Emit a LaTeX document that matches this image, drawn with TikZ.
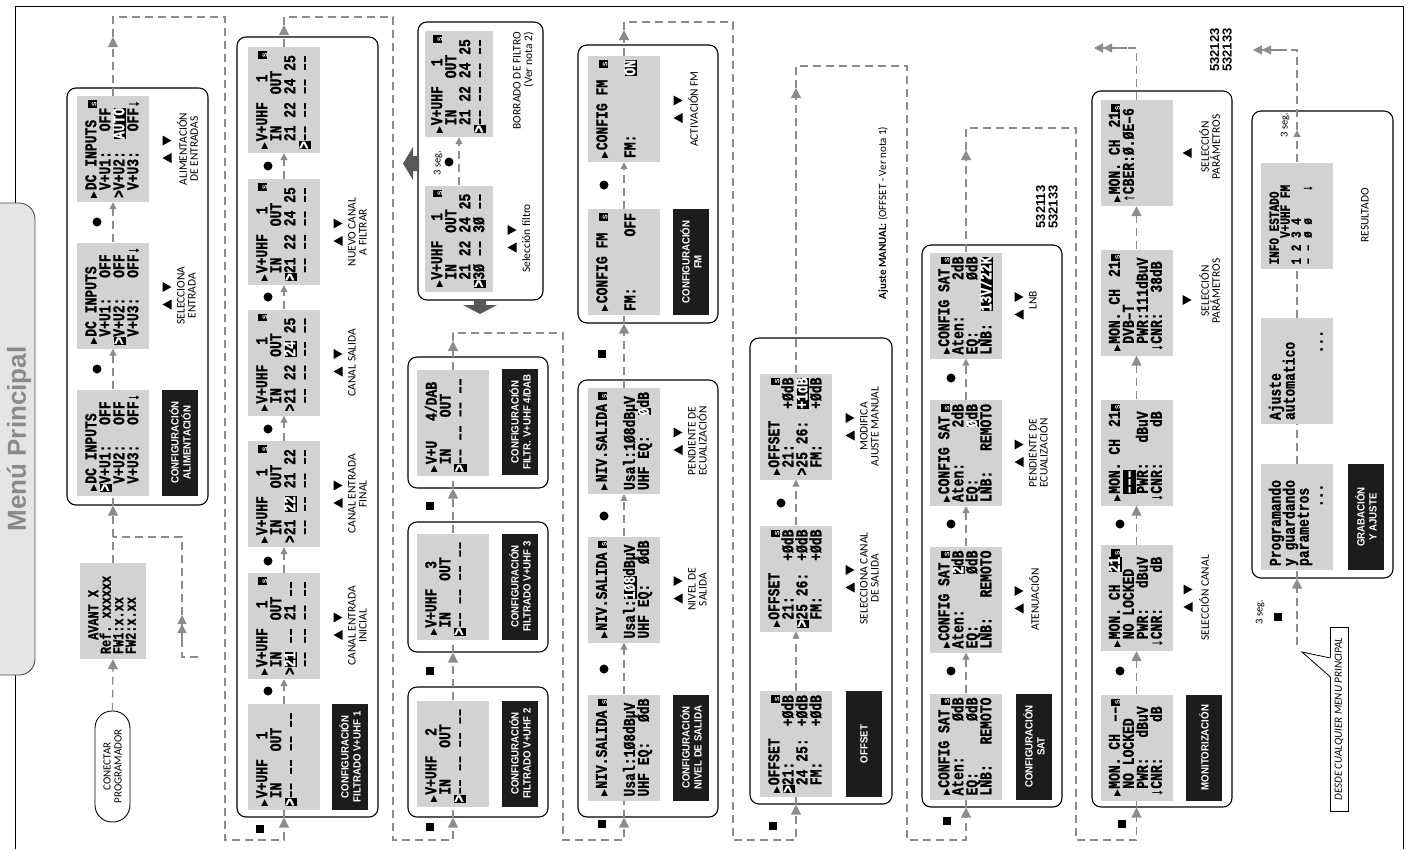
\documentclass[tikz,border=0pt]{standalone}
\usepackage{fontspec}
\setmainfont{Carlito}
\newfontfamily\lcdf[FakeStretch=0.79,FakeBold=1]{Liberation Mono}
\newfontfamily\hvf{Liberation Sans}
\newfontfamily\hvc[FakeStretch=0.92]{Liberation Sans}
\newfontfamily\dejaf{DejaVu Sans}
\usetikzlibrary{arrows.meta}

\definecolor{lcdgray}{RGB}{210,210,210}
\definecolor{flowgray}{RGB}{140,140,140}
\definecolor{tabgray}{RGB}{229,229,229}
\definecolor{titlegray}{RGB}{138,138,138}
\definecolor{lblack}{RGB}{28,28,28}
\definecolor{bigarrow}{RGB}{88,88,88}

\newcommand\lcdrow[2]{\hbox to 98pt{\vrule height 10pt depth 2.5pt width 0pt\relax #1\hfil #2}}
\newcommand\ptr{\makebox[7.8pt][l]{\dejaf\fontsize{9}{9}\selectfont ▶}}
\newcommand\sic{\makebox[7.8pt][c]{\makebox[0pt][l]{\rule[-0.3pt]{7.2pt}{9pt}}\makebox[7.2pt][c]{\textcolor{white}{\hvf\bfseries\fontsize{6.5}{6.5}\selectfont S}}}}
\newcommand\inv[1]{\setbox0\hbox{#1}\makebox[0pt][l]{\rule[-2.2pt]{\wd0}{12.7pt}}\textcolor{white}{\box0}}
\newcommand\lcd[1]{\vbox{\lcdf\bfseries\fontsize{16.5}{14}\selectfont\frenchspacing\baselineskip=14pt\lineskiplimit=-40pt\lineskip=0pt #1}}
\newcommand\dd{––}
\newcommand\tR[2]{\fill (#1-4.5,#2-5) -- (#1-4.5,#2+5) -- (#1+4.5,#2) -- cycle;}
\newcommand\tL[2]{\fill (#1+4.5,#2-5) -- (#1+4.5,#2+5) -- (#1-4.5,#2) -- cycle;}
\newcommand\keys[2]{\tL{#1}{#2+9}\tR{#1}{#2-8.5}}
\newcommand\scr[4][]{\node[lcdscr,#1] (#2) at (#3) {\lcd{#4}};}

\tikzset{
 lcdscr/.style={fill=lcdgray, rotate=90, minimum width=106pt, minimum height=72pt, inner sep=0pt},
 grp/.style={draw=black, line width=1.1pt, rounded corners=9pt, inner sep=0pt},
 blab/.style={fill=lblack, text=white, rotate=90, minimum width=106pt, minimum height=36pt, inner sep=0pt, align=center, font=\hvc\bfseries\fontsize{10.5}{12}\selectfont},
 lbl/.style={rotate=90, anchor=north, align=center, inner sep=0pt, font=\fontsize{11.5}{11}\selectfont},
 small/.style={rotate=90, inner sep=0pt, font=\fontsize{10.5}{10.5}\selectfont},
 flow/.style={draw=flowgray, line width=1.3pt, dash pattern=on 8pt off 5pt},
 tipS/.style={-{Triangle[length=7pt,width=7pt]}},
 tipL/.style={-{Triangle[length=10pt,width=10pt]}},
 dbl/.style={draw=flowgray, line width=1.3pt, -{Triangle[length=9pt,width=9pt] Triangle[length=9pt,width=9pt]}},
 num/.style={rotate=90, align=center, inner sep=0pt, font=\hvf\bfseries\fontsize{13}{12.5}\selectfont},
}

\begin{document}
\begin{tikzpicture}[x=1pt,y=-1pt]
\useasboundingbox (0,0) rectangle (1415,849);
% outer frame and title tab
\draw[line width=1pt] (15,849) -- (15,6) -- (1403,6) -- (1403,849);
\node[draw=black!70, line width=0.9pt, fill=tabgray, rounded corners=16pt, minimum width=56pt, minimum height=472pt, inner sep=0pt] (tab) at (7,439) {};
\node[rotate=90, text=titlegray, font=\hvf\bfseries\fontsize{26}{26}\selectfont] (title) at (19,439) {Menú Principal};

% ---------------- column 1 ----------------
\node[draw, line width=0.9pt, rounded corners=17pt, rotate=90, minimum width=111pt, minimum height=35pt, inner sep=0pt, align=center, font=\fontsize{11}{11}\selectfont] (pill) at (112.5,766.5) {CONECTAR\\PROGRAMADOR};
\node[fill=lcdgray, rotate=90, minimum width=96pt, minimum height=66pt, inner sep=0pt] (avant) at (113,611) {\vbox{\lcdf\bfseries\fontsize{15}{12.5}\selectfont\frenchspacing\baselineskip=12.5pt\lineskiplimit=-40pt
 \hbox to 86pt{\vrule height 9pt depth 2pt width 0pt\relax ~~AVANT~X\hfil}
 \hbox to 86pt{\vrule height 9pt depth 2pt width 0pt\relax Ref.~xxxxxx\hfil}
 \hbox to 86pt{\vrule height 9pt depth 2pt width 0pt\relax FW1:x.xx\hfil}
 \hbox to 86pt{\vrule height 9pt depth 2pt width 0pt\relax FW2:x.xx\hfil}}};

\node[grp, minimum width=141pt, minimum height=417pt] (G1) at (137.5,296.5) {};
\scr{A}{113,442.5}{\lcdrow{\ptr DC~INPUTS}{}\lcdrow{\inv{>}V+U1:}{OFF~}\lcdrow{~V+U2:}{OFF~}\lcdrow{~V+U3:}{OFF↓}}
\scr{B}{113,295.5}{\lcdrow{\ptr DC~INPUTS}{}\lcdrow{~V+U1:}{OFF~}\lcdrow{\inv{>}V+U2:}{OFF~}\lcdrow{~V+U3:}{OFF↓}}
\scr{C}{113,149}{\lcdrow{\ptr DC~INPUTS}{\sic}\lcdrow{~V+U1:}{OFF~}\lcdrow{>V+U2:}{\inv{AUTO}~}\lcdrow{~V+U3:}{OFF↓}}
\node[blab] (L1) at (180,442.5) {CONFIGURACIÓN\\ALIMENTACIÓN};
\keys{167}{295.5}\node[lbl] (t11) at (177,295.5) {SELECCIONA\\ENTRADA};
\keys{167}{149}\node[lbl] (t12) at (177,149) {ALIMENTACIÓN\\DE ENTRADAS};
\fill (97,222) circle (4.5pt); \fill (97,369) circle (4.5pt);

% ---------------- column 2 ----------------
\node[grp, minimum width=141pt, minimum height=780pt] (G2) at (307.5,427) {};
\scr{S21}{284,757}{\lcdrow{\ptr V+UHF}{1~~~}\lcdrow{~IN~~~~OUT}{}\lcdrow{\inv{>}\dd~\dd~\dd~\dd}{}\lcdrow{}{}}
\scr{S22}{284,626}{\lcdrow{\ptr V+UHF}{1~~\sic}\lcdrow{~IN~~~~OUT}{}\lcdrow{>\inv{21}~\dd~21~\dd}{}\lcdrow{~\dd~\dd~\dd~\dd}{}}
\scr{S23}{284,494}{\lcdrow{\ptr V+UHF}{1~~\sic}\lcdrow{~IN~~~~OUT}{}\lcdrow{>21~\inv{22}~21~22}{}\lcdrow{~\dd~\dd~\dd~\dd}{}}
\scr{S24}{284,362.5}{\lcdrow{\ptr V+UHF}{1~~\sic}\lcdrow{~IN~~~~OUT}{}\lcdrow{>21~22~\inv{24}~25}{}\lcdrow{~\dd~\dd~\dd~\dd}{}}
\scr{S25}{284,232}{\lcdrow{\ptr V+UHF}{1~~\sic}\lcdrow{~IN~~~~OUT}{}\lcdrow{\inv{>}21~22~24~25}{}\lcdrow{~\dd~\dd~\dd~\dd}{}}
\scr{S26}{284,100}{\lcdrow{\ptr V+UHF}{1~~\sic}\lcdrow{~IN~~~~OUT}{}\lcdrow{~21~22~24~25}{}\lcdrow{\inv{>}\dd~\dd~\dd~\dd}{}}
\node[blab] (L2) at (350,757) {CONFIGURACIÓN\\FILTRADO V+UHF 1};
\keys{338}{626}\node[lbl] (t21) at (348,626) {CANAL ENTRADA\\INICIAL};
\keys{338}{494}\node[lbl] (t22) at (348,494) {CANAL ENTRADA\\FINAL};
\keys{338}{362.5}\node[lbl] (t23) at (348,362.5) {CANAL SALIDA};
\keys{338}{232}\node[lbl] (t24) at (348,232) {NUEVO CANAL\\A FILTRAR};
\foreach \yy in {166,297,429,561,691} {\fill (268,\yy) circle (4.5pt);}
\fill (255.75,824.75) rectangle (264.25,833.25);

% ---------------- column 3 ----------------
\node[grp, minimum width=140pt, minimum height=130pt] (G31) at (478,752) {};
\node[grp, minimum width=140pt, minimum height=130pt] (G32) at (478,587) {};
\node[grp, minimum width=140pt, minimum height=131pt] (G33) at (478,422.5) {};
\node[grp, minimum width=125pt, minimum height=278pt] (GB) at (480.5,161) {};
\scr{S31}{453,753.5}{\lcdrow{\ptr V+UHF}{2~~~}\lcdrow{~IN~~~~OUT}{}\lcdrow{\inv{>}\dd~\dd~\dd~\dd}{}\lcdrow{}{}}
\scr{S32}{453,586.5}{\lcdrow{\ptr V+UHF}{3~~~}\lcdrow{~IN~~~~OUT}{}\lcdrow{\inv{>}\dd~\dd~\dd~\dd}{}\lcdrow{}{}}
\scr{S33}{453,423}{\lcdrow{\ptr V+U}{4/DAB~}\lcdrow{~IN~~~~OUT}{}\lcdrow{\inv{>}\dd~\dd~\dd~\dd}{}\lcdrow{}{}}
\scr[minimum height=68pt]{S3a}{459,238.5}{\lcdrow{\ptr V+UHF}{1~~\sic}\lcdrow{~IN~~~~OUT}{}\lcdrow{~21~22~24~25}{}\lcdrow{\inv{>}3Ø~\dd~3Ø~\dd}{}}
\scr[minimum height=68pt]{S3b}{459,84}{\lcdrow{\ptr V+UHF}{1~~\sic}\lcdrow{~IN~~~~OUT}{}\lcdrow{~21~22~24~25}{}\lcdrow{\inv{>}\dd~\dd~\dd~\dd}{}}
\node[blab] (L31) at (520,753.5) {CONFIGURACIÓN\\FILTRADO V+UHF 2};
\node[blab] (L32) at (520,586.5) {CONFIGURACIÓN\\FILTRADO V+UHF 3};
\node[blab] (L33) at (520,422) {CONFIGURACIÓN\\FILTR. V+UHF 4/DAB};
\node[small] (seg1) at (438,163) {3 seg.};
\fill (449,162) circle (4.5pt);
\keys{512}{238.5}\node[lbl] (t31) at (522,238.5) {Selección filtro};
\node[rotate=90, anchor=north east, align=right, inner sep=0pt, font=\fontsize{11.5}{11.5}\selectfont] (borr) at (513,32) {BORRADO DE FILTRO\\(Ver nota 2)};
\fill[bigarrow] (419,156) -- (413,156) -- (413,147) -- (403,163.5) -- (413,180) -- (413,171) -- (419,171) -- cycle;
\fill[bigarrow] (474,300) -- (486,300) -- (486,305) -- (497,305) -- (480,314) -- (463,305) -- (474,305) -- cycle;
\fill (425.75,822.75) rectangle (434.25,831.25);
\fill (425.75,666.75) rectangle (434.25,675.25);
\fill (425.75,501.75) rectangle (434.25,510.25);

% ---------------- column 4 ----------------
\node[grp, minimum width=140pt, minimum height=437pt] (G41) at (648,598.5) {};
\node[grp, minimum width=140pt, minimum height=278pt] (G42) at (648,184) {};
\scr{S41}{624,747.5}{\lcdrow{\ptr NIV.SALIDA}{\sic}\lcdrow{}{}\lcdrow{Usal:1Ø8dBµV}{}\lcdrow{UHF~EQ:}{ØdB}}
\scr{S42}{624,589.5}{\lcdrow{\ptr NIV.SALIDA}{\sic}\lcdrow{}{}\lcdrow{Usal:\inv{1Ø8}dBµV}{}\lcdrow{UHF~EQ:}{ØdB}}
\scr{S43}{624,441}{\lcdrow{\ptr NIV.SALIDA}{\sic}\lcdrow{}{}\lcdrow{Usal:1Ø8dBµV}{}\lcdrow{UHF~EQ:}{\inv{Ø}dB}}
\scr{S44}{624,262}{\lcdrow{\ptr CONFIG~FM}{\sic}\lcdrow{}{}\lcdrow{FM:}{OFF}\lcdrow{}{}}
\scr{S45}{624,109}{\lcdrow{\ptr CONFIG~FM}{\sic}\lcdrow{}{}\lcdrow{FM:}{\inv{ON}}\lcdrow{}{}}
\node[blab] (L41) at (691,747.5) {CONFIGURACIÓN\\NIVEL DE SALIDA};
\node[blab] (L42) at (691,262) {CONFIGURACIÓN\\FM};
\keys{678}{589.5}\node[lbl] (t41) at (688,589.5) {NIVEL DE\\SALIDA};
\keys{678}{441}\node[lbl] (t42) at (688,441) {PENDIENTE DE\\ECUALIZACIÓN};
\keys{678}{109}\node[lbl] (t43) at (688,109) {ACTIVACIÓN FM};
\fill (604,669) circle (4.5pt); \fill (604,516) circle (4.5pt); \fill (604,185) circle (4.5pt);
\fill (597.75,819.75) rectangle (606.25,828.25);
\fill (597.75,349.75) rectangle (606.25,358.25);

% ---------------- column 5 ----------------
\node[grp, minimum width=142pt, minimum height=466pt] (G5) at (821,571) {};
\scr{S51}{796,744}{\lcdrow{\ptr OFFSET}{\sic}\lcdrow{\inv{>}21:}{+ØdB}\lcdrow{~24~25:}{+ØdB}\lcdrow{~FM:}{+ØdB}}
\scr{S52}{796,578.5}{\lcdrow{\ptr OFFSET}{\sic}\lcdrow{~21:}{+ØdB}\lcdrow{\inv{>}25~26:}{+ØdB}\lcdrow{~FM:}{+ØdB}}
\scr{S53}{796,426.5}{\lcdrow{\ptr OFFSET}{\sic}\lcdrow{~21:}{+ØdB}\lcdrow{>25~26:}{\inv{+1dB}}\lcdrow{~FM:}{+ØdB}}
\node[blab] (L5) at (864,744) {OFFSET};
\keys{850}{578.5}\node[lbl] (t51) at (860,578.5) {SELECCIONA CANAL\\DE SALIDA};
\keys{850}{426.5}\node[lbl] (t52) at (860,426.5) {MODIFICA\\AJUSTE MANUAL};
\fill (781,503) circle (4.5pt);
\fill (768.75,821.75) rectangle (777.25,830.25);
\node[rotate=90, inner sep=0pt, font=\fontsize{11}{11}\selectfont] (ajm) at (883,213) {\textbf{Ajuste MANUAL:} (OFFSET - Ver nota 1)};

% ---------------- column 6 ----------------
\node[grp, minimum width=140pt, minimum height=562pt] (G6) at (992,526) {};
\scr{S61}{966,746.5}{\lcdrow{\ptr CONFIG~SAT}{\sic}\lcdrow{Aten:}{ØdB}\lcdrow{EQ:}{ØdB}\lcdrow{LNB:}{REMOTO}}
\scr{S62}{966,599.5}{\lcdrow{\ptr CONFIG~SAT}{\sic}\lcdrow{Aten:}{\inv{2}dB}\lcdrow{EQ:}{ØdB}\lcdrow{LNB:}{REMOTO}}
\scr{S63}{966,453}{\lcdrow{\ptr CONFIG~SAT}{\sic}\lcdrow{Aten:}{2dB}\lcdrow{EQ:}{\inv{Ø}dB}\lcdrow{LNB:}{REMOTO}}
\scr{S64}{966,305.5}{\lcdrow{\ptr CONFIG~SAT}{\sic}\lcdrow{Aten:}{2dB}\lcdrow{EQ:}{ØdB}\lcdrow{LNB:}{\inv{13V/22K}}}
\node[blab] (L6) at (1034,746.5) {CONFIGURACIÓN\\SAT};
\keys{1019}{599.5}\node[lbl] (t61) at (1029,599.5) {ATENUACIÓN};
\keys{1019}{453}\node[lbl] (t62) at (1029,453) {PENDIENTE DE\\ECUALIZACIÓN};
\keys{1019}{305.5}\node[lbl] (t63) at (1029,300) {LNB};
\fill (951,671) circle (4.5pt); \fill (951,524) circle (4.5pt); \fill (951,378) circle (4.5pt);
\fill (942.75,816.75) rectangle (951.25,825.25);
\node[num] (n1) at (1047,207) {532113\\532133};

% ---------------- column 7 ----------------
\node[grp, minimum width=140pt, minimum height=716pt] (G7) at (1162,449) {};
\scr{S71}{1136.5,747.5}{\lcdrow{\ptr MON.~CH}{\dd\sic}\lcdrow{~NO~LOCKED}{}\lcdrow{~PWR:}{dBuV~}\lcdrow{↓CNR:}{dB~}}
\scr{S72}{1136.5,598}{\lcdrow{\ptr MON.~CH}{\inv{21}\sic}\lcdrow{~NO~LOCKED}{}\lcdrow{~PWR:}{dBuV~}\lcdrow{↓CNR:}{dB~}}
\scr{S73}{1136.5,452.5}{\lcdrow{\ptr MON.~CH}{21\sic}\lcdrow{~\inv{–––}}{}\lcdrow{~PWR:}{dBuV~}\lcdrow{↓CNR:}{dB~}}
\scr{S74}{1136.5,302.5}{\lcdrow{\ptr MON.~CH}{21\sic}\lcdrow{~DVB–T}{}\lcdrow{~PWR:111dBuV}{}\lcdrow{↓CNR:}{38dB~}}
\scr{S75}{1136.5,153}{\lcdrow{\ptr MON.~CH}{21\sic}\lcdrow{↑CBER:Ø.ØE–6}{}\lcdrow{}{}\lcdrow{}{}}
\node[blab] (L7) at (1204,747.5) {MONITORIZACIÓN};
\keys{1188}{598}\node[lbl] (t71) at (1199,598) {SELECCIÓN CANAL};
\tR{1187}{300}\node[lbl] (t72) at (1199,291) {SELECCIÓN\\PARÁMETROS};
\tL{1187}{153}\node[lbl] (t73) at (1199,147) {SELECCIÓN\\PARÁMETROS};
\fill (1120,671) circle (4.5pt); \fill (1120,524) circle (4.5pt);
\fill (1117.75,819.75) rectangle (1126.25,828.25);
\node[num] (n2) at (1221,50) {532123\\532133};

% ---------------- column 8 ----------------
\node[grp, minimum width=141pt, minimum height=467pt] (G8) at (1322.5,344.5) {};
\scr{S81}{1297,517}{\lcdrow{Programando}{}\lcdrow{y~guardando}{}\lcdrow{parametros}{}\lcdrow{}{...~~}}
\scr{S82}{1297,371}{\lcdrow{Ajuste}{}\lcdrow{automatico}{}\lcdrow{}{}\lcdrow{}{...~}}
\scr{S83}{1297,215.5}{\fontsize{14}{11}\selectfont\baselineskip=11pt\lcdrow{INFO~ESTADO}{}\lcdrow{~~~~V+UHF~FM}{}\lcdrow{1~2~3~4}{}\lcdrow{–~–~ø~ø~~~~↓}{}\lcdrow{}{}}
\node[blab] (L8) at (1366,517) {GRABACIÓN\\Y AJUSTE};
\node[lbl] (t81) at (1361,215.5) {RESULTADO};
\node[small] (seg2) at (1285,125) {3 seg.};
\node[small] (seg3) at (1260,612) {3 seg.};
\fill (1273.75,612.75) rectangle (1282.25,621.25);
\node[draw, line width=0.8pt, rotate=90, minimum width=184pt, minimum height=18pt, inner sep=0pt, font=\itshape\fontsize{11}{11}\selectfont] (callout) at (1339,719) {DESDE CUALQUIER MENU PRINCIPAL};
\fill[white] (1330.8,658) -- (1302,652) -- (1330.8,677) -- cycle;
\draw[line width=0.8pt] (1330.4,658) -- (1302,652) -- (1330.4,677);

% ---------------- connectors ----------------
% column 1
\draw[flow,tipL] (pill.east) -- (avant.west);
\draw[flow,tipL] (avant.east) -- (A.west |- G1.south);
\draw[flow] (A.west |- G1.south) -- (A.west);
\draw[flow,tipS] (A.east) -- (B.west);
\draw[flow,tipS] (B.east) -- (C.west);
\coordinate (k1) at (113,37);
\draw[flow,tipL] (C.east) -- (k1);
\draw[flow,tipL] (k1) -- (113,17) -- (225,17) -- (225,840) -- (284,840) -- (S21.west |- G2.south);
\draw[flow] (S21.west |- G2.south) -- (S21.west);
\coordinate (r1) at (198,657); \coordinate (r2) at (182,657); \coordinate (r3) at (182,639);
\coordinate (r4) at (182,615); \coordinate (r5) at (182,537); \coordinate (r6) at (113,537);
\draw[flow] (r1) -- (r2) -- (r3);
\draw[dbl] (r3) -- (r4);
\draw[flow] (r4) -- (r5) -- (r6);
% column 2
\draw[flow,tipS] (S21.east) -- (S22.west);
\draw[flow,tipS] (S22.east) -- (S23.west);
\draw[flow,tipS] (S23.east) -- (S24.west);
\draw[flow,tipS] (S24.east) -- (S25.west);
\draw[flow,tipS] (S25.east) -- (S26.west);
\coordinate (k2) at (284,25);
\draw[flow,tipL] (S26.east) -- (k2);
\draw[flow,tipL] (k2) -- (284,17) -- (393,17) -- (393,840) -- (453,840) -- (S31.west |- G31.south);
\draw[flow] (S31.west |- G31.south) -- (S31.west);
% column 3
\draw[flow,tipL] (S31.east) -- (S32.west |- G32.south);
\draw[flow] (S32.west |- G32.south) -- (S32.west);
\draw[flow,tipL] (S32.east) -- (S33.west |- G33.south);
\draw[flow] (S33.west |- G33.south) -- (S33.west);
\coordinate (k3) at (453,341);
\draw[flow,tipL] (S33.east) -- (k3);
\draw[flow,tipL] (k3) -- (453,333) -- (563,333) -- (563,840) -- (624,840) -- (S41.west |- G41.south);
\draw[flow] (S41.west |- G41.south) -- (S41.west);
\draw[flow,tipS] (S3a.east) -- (S3b.west);
% column 4
\draw[flow,tipS] (S41.east) -- (S42.west);
\draw[flow,tipS] (S42.east) -- (S43.west);
\draw[flow,tipL] (S43.east) -- (S44.west |- G42.south);
\draw[flow] (S44.west |- G42.south) -- (S44.west);
\draw[flow,tipS] (S44.east) -- (S45.west);
\coordinate (k4) at (624,30);
\draw[flow,tipL] (S45.east) -- (k4);
\draw[flow,tipL] (k4) -- (624,22) -- (733,22) -- (733,840) -- (796,840) -- (S51.west |- G5.south);
\draw[flow] (S51.west |- G5.south) -- (S51.west);
% column 5
\draw[flow,tipS] (S51.east) -- (S52.west);
\draw[flow,tipS] (S52.east) -- (S53.west);
\coordinate (k5) at (796,88);
\draw[flow,tipL] (S53.east) -- (k5);
\draw[flow,tipL] (k5) -- (796,66) -- (907,66) -- (907,840) -- (966,840) -- (S61.west |- G6.south);
\draw[flow] (S61.west |- G6.south) -- (S61.west);
% column 6
\draw[flow,tipS] (S61.east) -- (S62.west);
\draw[flow,tipS] (S62.east) -- (S63.west);
\draw[flow,tipS] (S63.east) -- (S64.west);
\coordinate (k6) at (966,150);
\draw[flow,tipL] (S64.east) -- (k6);
\draw[flow,tipL] (k6) -- (966,128) -- (1076,128) -- (1076,840) -- (1136.5,840) -- (S71.west |- G7.south);
\draw[flow] (S71.west |- G7.south) -- (S71.west);
% column 7
\draw[flow,tipL] (S71.east) -- (S72.west);
\draw[flow,tipL] (S72.east) -- (S73.west);
\draw[flow,tipL] (S73.east) -- (S74.west);
\draw[flow,tipL] (S74.east) -- (S75.west);
\coordinate (k7a) at (1136.5,48); \coordinate (k7b) at (1127,48); \coordinate (k7c) at (1094,48);
\draw[flow] (S75.east) -- (k7a) -- (k7b);
\draw[dbl] (k7b) -- (k7c);
% column 8
\coordinate (desde) at (1297,645);
\draw[flow,tipL] (desde) -- (S81.west |- G8.south);
\draw[flow] (S81.west |- G8.south) -- (S81.west);
\draw[flow] (S81.east) -- (S82.west);
\draw[flow] (S82.east) -- (S83.west);
\coordinate (k8) at (1297,130);
\draw[flow,tipS] (S83.east) -- (k8);
\coordinate (k8a) at (1297,50); \coordinate (k8b) at (1287,50); \coordinate (k8c) at (1253,50);
\draw[flow] (k8) -- (k8a) -- (k8b);
\draw[dbl] (k8b) -- (k8c);
\end{tikzpicture}
\end{document}
